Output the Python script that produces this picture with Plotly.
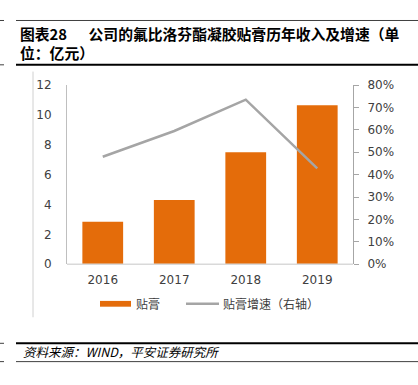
import plotly.graph_objects as go

years = ["2016", "2017", "2018", "2019"]
revenue = [2.85, 4.3, 7.5, 10.65]          # 贴膏 (亿元)
growth = [0.48, 0.595, 0.735, 0.428]        # 贴膏增速 (右轴)
left_ticks = [0, 2, 4, 6, 8, 10, 12]
right_ticks = [0, 0.1, 0.2, 0.3, 0.4, 0.5, 0.6, 0.7, 0.8]

W, H = 418, 385
ORANGE = "#E46C0A"
GRAY = "#A5A5A5"
FONT = "DejaVu Sans"
CJK = "Noto Sans CJK SC"

def px(x):
    return x / W

def py(y):
    return 1 - y / H

fig = go.Figure()
fig.add_trace(go.Bar(x=years, y=revenue, name="贴膏", marker=dict(color=ORANGE, line=dict(width=0)),
                     width=0.57, yaxis="y", showlegend=False))
fig.add_trace(go.Scatter(x=years, y=growth, name="贴膏增速（右轴）", mode="lines",
                         line=dict(color=GRAY, width=2.5), yaxis="y2", showlegend=False))

fig.update_layout(
    width=W, height=H, autosize=False,
    margin=dict(l=0, r=0, t=0, b=0),
    paper_bgcolor="white", plot_bgcolor="white",
    showlegend=False,
    xaxis=dict(domain=[px(67), px(353)], type="category", showgrid=False, zeroline=False,
               showline=False, ticks="", ticklabelstandoff=7,
               tickfont=dict(family=FONT, size=12, color="#404040")),
    yaxis=dict(domain=[py(267), py(81)], range=[0, 12], tickvals=left_ticks, showgrid=False,
               zeroline=False, showline=True, linecolor="#BFBFBF", linewidth=1, ticks="",
               ticklen=0, ticklabelstandoff=12, tickfont=dict(family=FONT, size=12, color="#404040")),
    yaxis2=dict(overlaying="y", side="right", range=[0, 0.8], tickvals=right_ticks,
                tickformat=".0%", showgrid=False, zeroline=False, showline=True,
                linecolor="#A6A6A6", linewidth=1, ticks="outside", ticklen=5, tickcolor="#A6A6A6",
                ticklabelstandoff=6, tickfont=dict(family=FONT, size=12, color="#404040")),
    bargap=0.43,
)

shapes = []
# x-axis baseline
shapes.append(dict(type="line", xref="paper", yref="paper", x0=px(67), x1=px(353), y0=py(267), y1=py(267),
                   line=dict(color="#D9D9D9", width=1.5)))
# frame lines
shapes.append(dict(type="line", xref="paper", yref="paper", x0=px(16), x1=1, y0=py(14), y1=py(14),
                   line=dict(color="#404040", width=1)))
shapes.append(dict(type="line", xref="paper", yref="paper", x0=px(16), x1=1, y0=py(60), y1=py(60),
                   line=dict(color="black", width=2)))
shapes.append(dict(type="line", xref="paper", yref="paper", x0=px(16), x1=1, y0=py(349), y1=py(349),
                   line=dict(color="black", width=2)))
shapes.append(dict(type="line", xref="paper", yref="paper", x0=px(16), x1=1, y0=py(368), y1=py(368),
                   line=dict(color="#404040", width=1)))
for yy in [14, 60, 349, 368]:
    shapes.append(dict(type="line", xref="paper", yref="paper", x0=0, x1=px(4), y0=py(yy), y1=py(yy),
                       line=dict(color="#404040", width=1)))
shapes.append(dict(type="line", xref="paper", yref="paper", x0=px(33), x1=px(33), y0=py(67), y1=py(322),
                   line=dict(color="#D0D0D0", width=1)))
# legend swatches
shapes.append(dict(type="rect", xref="paper", yref="paper", x0=px(100), x1=px(131), y0=py(311), y1=py(305),
                   fillcolor=ORANGE, line=dict(width=0)))
shapes.append(dict(type="line", xref="paper", yref="paper", x0=px(186), x1=px(219), y0=py(308), y1=py(308),
                   line=dict(color=GRAY, width=2.5)))
fig.update_layout(shapes=shapes)

ann = []
ann.append(dict(text="<b>图表28\u3000\u00a0\u00a0公司的氟比洛芬酯凝胶贴膏历年收入及增速（单<br>位：亿元）</b>",
                x=px(18), y=py(37), xref="paper", yref="paper", xanchor="left", align="left",
                yanchor="middle", showarrow=False, font=dict(family=CJK, size=14.8, color="black")))
ann.append(dict(text="贴膏", x=px(134), y=py(308), xref="paper", yref="paper", xanchor="left",
                yanchor="middle", showarrow=False, font=dict(family=CJK, size=12, color="#404040")))
ann.append(dict(text="贴膏增速（右轴）", x=px(221), y=py(308), xref="paper", yref="paper", xanchor="left",
                yanchor="middle", showarrow=False, font=dict(family=CJK, size=12, color="#404040")))
ann.append(dict(text="<i>资料来源：WIND，平安证券研究所</i>", x=px(21), y=py(358), xref="paper", yref="paper",
                xanchor="left", yanchor="middle", showarrow=False,
                font=dict(family=CJK, size=12.5, color="black")))
fig.update_layout(annotations=ann)

fig.write_html("out.html", config={"displayModeBar": False},
               post_script="document.body.style.margin='0';document.body.style.overflow='hidden';")
